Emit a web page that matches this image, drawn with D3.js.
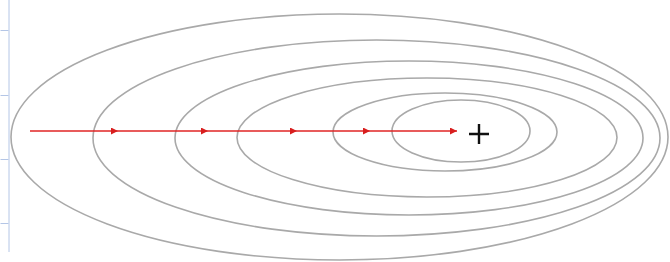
<!DOCTYPE html>
<html>
<head>
<meta charset="utf-8">
<script src="https://cdn.jsdelivr.net/npm/d3@7"></script>
<style>
  body { margin: 0; background: #fff; }
  svg { display: block; }
</style>
</head>
<body>
<svg id="chart" width="670" height="262"></svg>
<script>
// contour ellipses (data units), outer -> inner
const centerX = [33.95, 37.65, 40.9, 42.7, 44.5, 46.1];
const centerY = [13.7, 13.8, 13.8, 13.75, 13.2, 13.1];
const radiusX = [32.85, 28.35, 23.4, 19.0, 11.2, 6.9];
const radiusY = [12.3, 9.8, 7.7, 5.95, 3.9, 3.1];

// gradient descent iterates along the long axis
const stepX = [3.0, 11.8, 20.8, 29.7, 37.0, 45.7];
const stepY = 13.1;

// the optimum
const optimum = [47.9, 13.4];

// left axis ticks (no labels)
const yTicks = [3.0, 9.5, 15.9, 22.3];

const width = 670, height = 262;
const x = d3.scaleLinear().domain([0, 67]).range([0, width]);
const y = d3.scaleLinear().domain([0, 26.2]).range([0, height]);

const svg = d3.select("#chart");

svg.append("defs").append("marker")
    .attr("id", "head")
    .attr("viewBox", "0 0 10 10")
    .attr("refX", 10).attr("refY", 5)
    .attr("markerWidth", 8).attr("markerHeight", 7)
    .attr("markerUnits", "userSpaceOnUse")
    .attr("orient", "auto")
  .append("path")
    .attr("d", "M0,0L10,5L0,10Z")
    .attr("fill", "#d81e1e");

// axis on the left edge
const yAxis = d3.axisLeft(y).tickValues(yTicks).tickSize(8).tickSizeOuter(0).tickFormat("");
const ax = svg.append("g")
    .attr("transform", "translate(8.5,0)")
    .call(yAxis);
ax.select(".domain").attr("stroke", "#b4c6e6").attr("d", "M0.5,0V" + y(25.2));
ax.selectAll(".tick line").attr("stroke", "#b4c6e6");

// contours
svg.append("g")
  .selectAll("ellipse")
  .data(d3.range(centerX.length))
  .join("ellipse")
    .attr("cx", i => x(centerX[i]))
    .attr("cy", i => y(centerY[i]))
    .attr("rx", i => x(radiusX[i]) - x(0))
    .attr("ry", i => y(radiusY[i]) - y(0))
    .attr("fill", "none")
    .attr("stroke", "#a9a9a9")
    .attr("stroke-width", 1.6);

// steps
const segs = d3.pairs(stepX);
svg.append("g")
  .selectAll("line")
  .data(segs)
  .join("line")
    .attr("x1", d => x(d[0]))
    .attr("x2", d => x(d[1]))
    .attr("y1", y(stepY))
    .attr("y2", y(stepY))
    .attr("stroke", "#e02424")
    .attr("stroke-width", 1.3)
    .attr("marker-end", "url(#head)");

// optimum marker
const px = x(optimum[0]), py = y(optimum[1]);
svg.append("path")
    .attr("d", `M${px - 10},${py}H${px + 10}M${px},${py - 10}V${py + 10}`)
    .attr("stroke", "#111")
    .attr("stroke-width", 2.4)
    .attr("fill", "none");
</script>
</body>
</html>
